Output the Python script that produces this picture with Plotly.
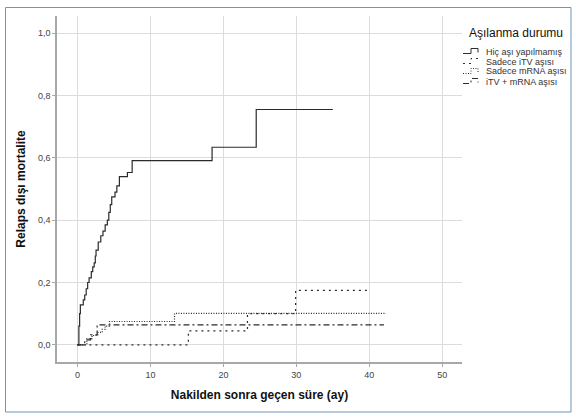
import plotly.graph_objects as go

# Cumulative non-relapse mortality by vaccination status (step curves)
none_t = [0, 0.2, 0.3, 0.4, 0.8, 1.0, 1.2, 1.4, 1.6, 1.9, 2.1, 2.3, 2.45, 2.55,
          2.85, 3.2, 3.5, 3.8, 4.1, 4.3, 4.5, 4.7, 5.15, 5.4, 5.75, 6.85, 7.5,
          18.45, 24.5, 35.0]
none_y = [0, 0.06, 0.10, 0.128, 0.144, 0.16, 0.18, 0.20, 0.215, 0.235, 0.25,
          0.263, 0.285, 0.304, 0.33, 0.35, 0.365, 0.385, 0.40, 0.425, 0.45,
          0.475, 0.49, 0.51, 0.54, 0.553, 0.591, 0.634, 0.755, 0.755]

itv_t = [0, 15.2, 23.3, 29.9, 39.9]
itv_y = [0, 0.045, 0.10, 0.175, 0.175]

mrna_t = [0, 1.3, 2.0, 2.8, 3.4, 3.8, 4.4, 13.3, 42.3]
mrna_y = [0, 0.02, 0.03, 0.04, 0.05, 0.06, 0.075, 0.101, 0.101]

both_t = [0, 1.0, 1.8, 2.7, 42.0]
both_y = [0, 0.016, 0.032, 0.064, 0.064]

series_names = ["Hiç aşı yapılmamış", "Sadece iTV aşısı",
                "Sadece mRNA aşısı", "iTV + mRNA aşısı"]
legend_title = "Aşılanma durumu"

x_ticks = [0, 10, 20, 30, 40, 50]
y_ticks = [0.0, 0.2, 0.4, 0.6, 0.8, 1.0]

LINE = "#2b2b2b"
FONT = "Liberation Sans, Arial, sans-serif"
dashes = ["solid", "2px,4px", "1px,1.5px", "6px,3px,2px,3px"]

W, H = 576, 419
L, R, T, B = 57, 114, 16, 57
pw, ph = W - L - R, H - T - B


def px_x(px):
    return (px - L) / pw


def px_y(py):
    return (H - B - py) / ph


fig = go.Figure()
for name, t, y, dash in zip(series_names,
                            [none_t, itv_t, mrna_t, both_t],
                            [none_y, itv_y, mrna_y, both_y],
                            dashes):
    fig.add_trace(go.Scatter(
        x=t, y=y, mode="lines", name=name, showlegend=False,
        line=dict(shape="hv", color=LINE, width=1.2, dash=dash),
    ))

fig.update_layout(
    width=W, height=H,
    margin=dict(l=L, r=R, t=T, b=B),
    paper_bgcolor="white", plot_bgcolor="white",
    separators=", ",
    font=dict(family=FONT, size=9, color="#444"),
    showlegend=False,
    xaxis=dict(
        range=[-2.8, 52.7], tickvals=x_ticks, tickformat="d",
        showgrid=True, gridcolor="#dcdcdc", gridwidth=1.3,
        showline=True, linecolor="#a8a8a8", linewidth=1.5,
        ticks="outside", ticklen=3, tickcolor="#a8a8a8",
        zeroline=False,
        title=dict(text="<b>Nakilden sonra geçen süre (ay)</b>",
                   font=dict(family=FONT, size=12, color="#111"), standoff=12),
    ),
    yaxis=dict(
        range=[-0.055, 1.055], tickvals=y_ticks, tickformat=".1f",
        showgrid=True, gridcolor="#dcdcdc", gridwidth=1.3,
        showline=True, linecolor="#a8a8a8", linewidth=1.5,
        ticks="outside", ticklen=3, tickcolor="#a8a8a8",
        zeroline=False,
        title=dict(text="<b>Relaps dışı mortalite</b>",
                   font=dict(family=FONT, size=12, color="#111"), standoff=10),
    ),
)

# legend drawn by hand: title, small step-shaped samples and labels
fig.add_annotation(
    text=legend_title, xref="paper", yref="paper",
    x=px_x(467), y=px_y(33), xanchor="left", yanchor="middle",
    showarrow=False, font=dict(family=FONT, size=12, color="#111"),
)
row_y = [51.5, 61.5, 71.5, 81.5]
for name, dash, ry in zip(series_names, dashes, row_y):
    pts = [(463, ry + 2), (471, ry + 2), (471, ry - 3),
           (478, ry - 3), (478, ry + 1)]
    path = "M " + " L ".join(f"{px_x(a):.5f},{px_y(b):.5f}" for a, b in pts)
    fig.add_shape(type="path", xref="paper", yref="paper", path=path,
                  line=dict(color=LINE, width=1, dash=dash))
    fig.add_annotation(
        text=name, xref="paper", yref="paper",
        x=px_x(484), y=px_y(ry), xanchor="left", yanchor="middle",
        showarrow=False, font=dict(family=FONT, size=9, color="#333"),
    )

# thin frame around the whole figure
fig.add_shape(
    type="rect", xref="paper", yref="paper",
    x0=px_x(5.5), x1=px_x(571), y0=px_y(412), y1=px_y(7.5),
    line=dict(color="#6f94c0", width=1), layer="below",
)

fig.write_html("out.html")
